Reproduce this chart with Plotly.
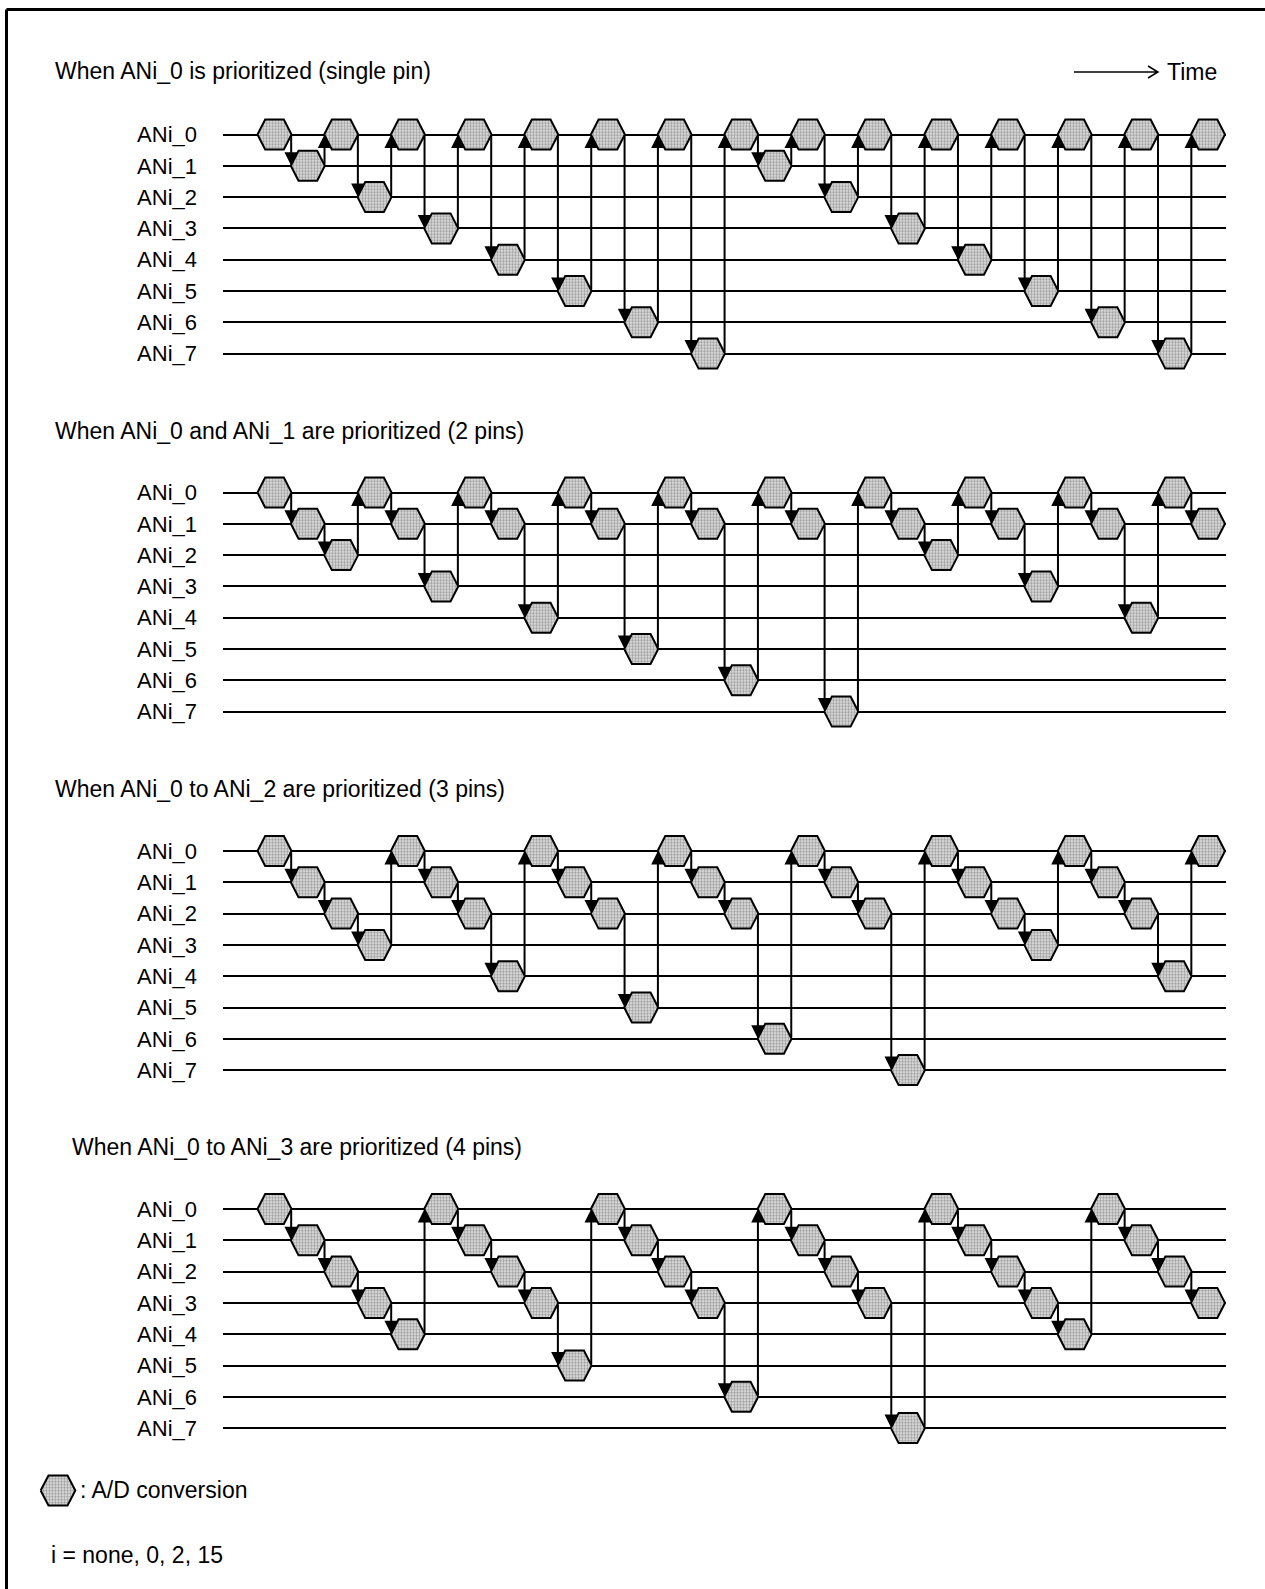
import plotly.graph_objects as go

# channel names (rows of each timing chart)
ROWS = ['ANi_0', 'ANi_1', 'ANi_2', 'ANi_3', 'ANi_4', 'ANi_5', 'ANi_6', 'ANi_7']

TITLES = [
    'When ANi_0 is prioritized (single pin)',
    'When ANi_0 and ANi_1 are prioritized (2 pins)',
    'When ANi_0 to ANi_2 are prioritized (3 pins)',
    'When ANi_0 to ANi_3 are prioritized (4 pins)',
]

# channel converted in each time slot
SEQ_SINGLE = [0, 1, 0, 2, 0, 3, 0, 4, 0, 5, 0, 6, 0, 7, 0, 1, 0, 2, 0, 3, 0, 4, 0, 5, 0, 6, 0, 7, 0]
SEQ_2PIN = [0, 1, 2, 0, 1, 3, 0, 1, 4, 0, 1, 5, 0, 1, 6, 0, 1, 7, 0, 1, 2, 0, 1, 3, 0, 1, 4, 0, 1]
SEQ_3PIN = [0, 1, 2, 3, 0, 1, 2, 4, 0, 1, 2, 5, 0, 1, 2, 6, 0, 1, 2, 7, 0, 1, 2, 3, 0, 1, 2, 4, 0]
SEQ_4PIN = [0, 1, 2, 3, 4, 0, 1, 2, 3, 5, 0, 1, 2, 3, 6, 0, 1, 2, 3, 7, 0, 1, 2, 3, 4, 0, 1, 2, 3]

SEQUENCES = [SEQ_SINGLE, SEQ_2PIN, SEQ_3PIN, SEQ_4PIN]

LEGEND_TEXT = ': A/D conversion'
NOTE_TEXT = 'i = none, 0, 2, 15'

W, H = 1265, 1589
FONT = 'Liberation Sans, Arial, Helvetica, sans-serif'
FONT_SIZE = 23
ROW0_PX = [134.5, 492.5, 851.0, 1209.0]
TITLE_PX = [(53, 71), (53, 431), (53, 789), (70, 1147)]
PITCH = 31.3
X_LEFT, X_RIGHT = 223, 1226
X_RANGE = [-1.545, 28.54]
Y_RANGE = [7.6, -0.6]


def px_x(x):
    return x / W


def px_y(y):
    return 1 - y / H


def hexagons(slots, rows, hw=0.51, cw=0.28, hh=0.48):
    """Build None separated hexagon outlines for fill='toself'"""
    xs, ys = [], []
    for s, r in zip(slots, rows):
        xs += [s - hw, s - cw, s + cw, s + hw, s + cw, s - cw, s - hw, None]
        ys += [r, r - hh, r - hh, r, r + hh, r + hh, r, None]
    return xs, ys


HEX_STYLE = dict(
    mode='lines', fill='toself', fillcolor='#d0d0d0',
    fillpattern=dict(shape='.', size=3, solidity=0.5, fgcolor='#555555', bgcolor='#e6e6e6'),
    line=dict(color='black', width=2), hoverinfo='skip', showlegend=False,
)

fig = go.Figure()
annotations = []

for k, seq in enumerate(SEQUENCES):
    n = k + 1
    xa = 'x' if n == 1 else f'x{n}'
    ya = 'y' if n == 1 else f'y{n}'
    slots = list(range(len(seq)))
    hx, hy = hexagons(slots, seq)
    fig.add_trace(go.Scatter(x=hx, y=hy, xaxis=xa, yaxis=ya, **HEX_STYLE))

    top = ROW0_PX[k] + Y_RANGE[1] * PITCH
    bottom = ROW0_PX[k] + Y_RANGE[0] * PITCH
    fig.update_layout(**{
        f'xaxis{"" if n == 1 else n}': dict(
            domain=[px_x(X_LEFT), px_x(X_RIGHT)], range=X_RANGE, anchor=ya,
            showgrid=False, zeroline=False, showticklabels=False, showline=False,
        ),
        f'yaxis{"" if n == 1 else n}': dict(
            domain=[px_y(bottom), px_y(top)], range=Y_RANGE, anchor=xa,
            tickvals=list(range(len(ROWS))), ticktext=ROWS,
            showgrid=True, gridcolor='black', gridwidth=2, zeroline=False,
            showline=False, ticks='', ticklabelstandoff=25,
            tickfont=dict(family=FONT, size=FONT_SIZE - 1, color='black'),
        ),
    })

    # arrows between consecutive conversions
    for i in range(len(seq) - 1):
        a, b = seq[i], seq[i + 1]
        annotations.append(dict(
            x=i + 0.5, y=b, ax=i + 0.5, ay=a, xref=xa, yref=ya, axref=xa, ayref=ya,
            text='', showarrow=True, arrowhead=2, arrowsize=1.35, arrowwidth=2,
            arrowcolor='black', standoff=0,
        ))

    tx, ty = TITLE_PX[k]
    annotations.append(dict(
        x=px_x(tx), y=px_y(ty), xref='paper', yref='paper', text=TITLES[k],
        showarrow=False, xanchor='left', yanchor='middle',
        font=dict(family=FONT, size=FONT_SIZE, color='black'),
    ))

# legend hexagon on its own small axes
lx, ly = hexagons([0], [0])
fig.add_trace(go.Scatter(x=lx, y=ly, xaxis='x5', yaxis='y5', **HEX_STYLE))
fig.update_layout(
    xaxis5=dict(domain=[px_x(24), px_x(92)], range=[-1, 1], anchor='y5', visible=False),
    yaxis5=dict(domain=[px_y(1521.8), px_y(1459.2)], range=[1, -1], anchor='x5', visible=False),
)

annotations += [
    dict(x=px_x(78), y=px_y(1490), xref='paper', yref='paper', text=LEGEND_TEXT,
         showarrow=False, xanchor='left', yanchor='middle',
         font=dict(family=FONT, size=FONT_SIZE, color='black')),
    dict(x=px_x(49), y=px_y(1555), xref='paper', yref='paper', text=NOTE_TEXT,
         showarrow=False, xanchor='left', yanchor='middle',
         font=dict(family=FONT, size=FONT_SIZE, color='black')),
    dict(x=px_x(1165), y=px_y(72), xref='paper', yref='paper', text='Time',
         showarrow=False, xanchor='left', yanchor='middle',
         font=dict(family=FONT, size=FONT_SIZE, color='black')),
]

shapes = [
    # frame (left and top edges)
    dict(type='line', xref='paper', yref='paper', x0=px_x(6.5), x1=1.0, y0=px_y(9.5), y1=px_y(9.5),
         line=dict(color='black', width=3)),
    dict(type='line', xref='paper', yref='paper', x0=px_x(6.5), x1=px_x(6.5), y0=px_y(9.5), y1=0.0,
         line=dict(color='black', width=3)),
    # time arrow
    dict(type='path', xref='paper', yref='paper',
         path=f'M {px_x(1074)},{px_y(72)} L {px_x(1158)},{px_y(72)} '
              f'M {px_x(1148)},{px_y(66)} L {px_x(1158)},{px_y(72)} L {px_x(1148)},{px_y(78)}',
         line=dict(color='black', width=1.5)),
]

fig.update_layout(
    width=W, height=H, margin=dict(l=0, r=0, t=0, b=0),
    paper_bgcolor='white', plot_bgcolor='white',
    showlegend=False, annotations=annotations, shapes=shapes,
)

fig.write_html('out.html', config={'displayModeBar': False},
               post_script="document.body.style.margin='0';")
